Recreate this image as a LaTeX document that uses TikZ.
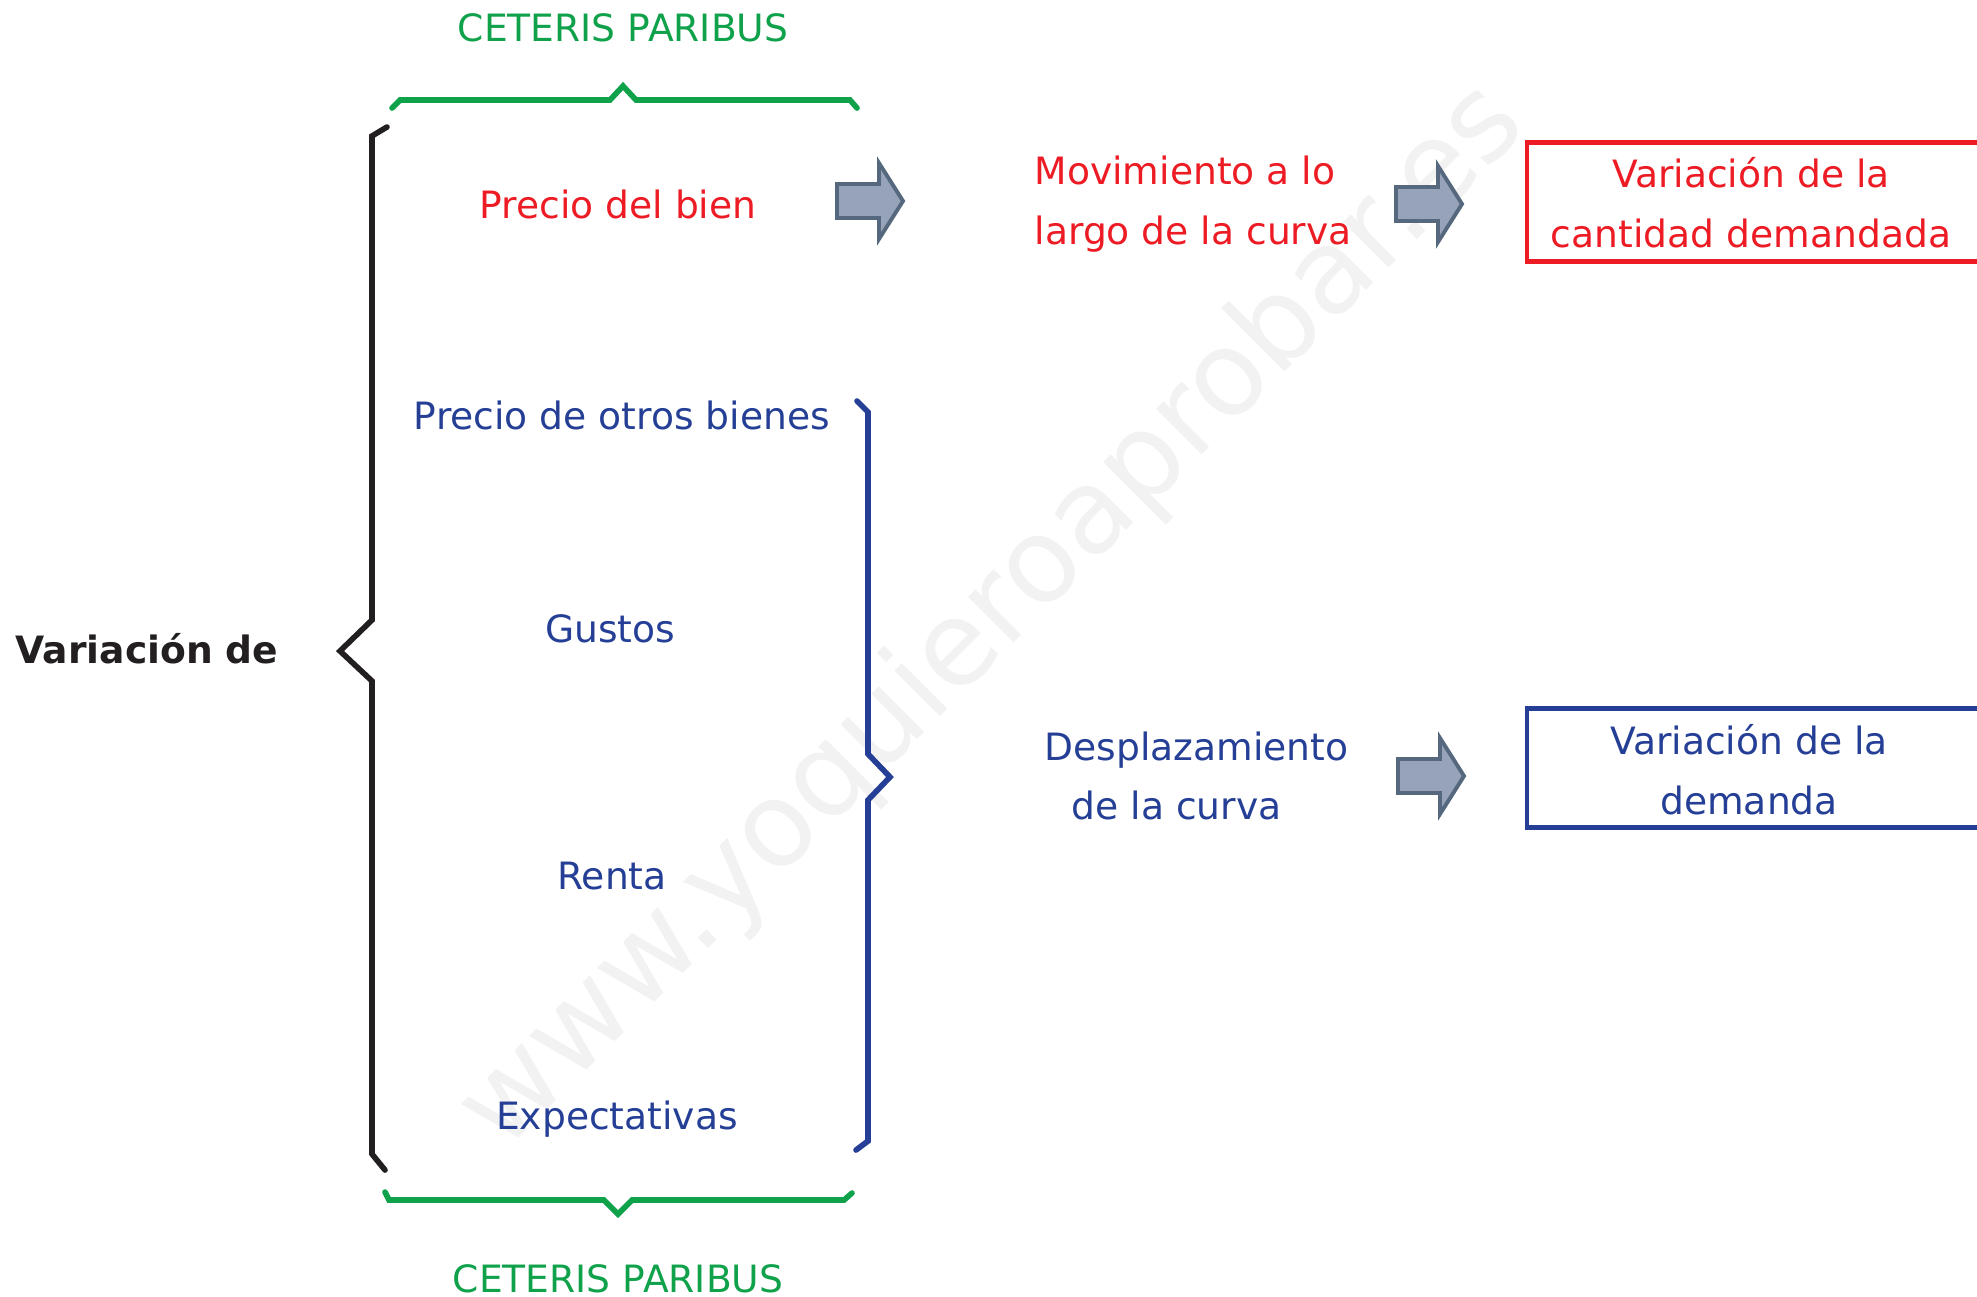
\documentclass[tikz,border=0pt]{standalone}
\usepackage{fontspec}
\setmainfont{DejaVu Sans}
\usepackage{xcolor}
\usetikzlibrary{positioning}

\definecolor{cpgreen}{HTML}{10A14B}
\definecolor{qred}{HTML}{ED1C24}
\definecolor{dblue}{HTML}{243F95}
\definecolor{bkbrace}{HTML}{231F20}
\definecolor{arrfill}{HTML}{97A3B8}
\definecolor{arrdraw}{HTML}{56687D}

\begin{document}
\begin{tikzpicture}[
    x=0.01cm, y=-0.01cm,
    every node/.style={inner sep=0pt, font=\fontsize{10.7pt}{17pt}\selectfont},
    redtxt/.style={text=qred, align=center},
    bluetxt/.style={text=dblue, align=center},
    cp/.style={text=cpgreen},
    brace/.style={line width=1.6pt, line cap=round, line join=miter},
    outbox/.style={draw, line width=1.2pt, minimum width=5.6cm, minimum height=1.19cm, anchor=west},
    blockarrow/.pic={\draw[fill=arrfill, draw=arrdraw, line width=1.1pt, line join=miter]
      (0,-17) -- (42,-17) -- (42,-38) -- (66,0) -- (42,38) -- (42,17) -- (0,17) -- cycle;}
  ]
    \useasboundingbox (0,0) rectangle (1977,1296);

    % watermark
    \node[text=black!5, font=\fontsize{33.5pt}{40pt}\selectfont, rotate=45] (wm) at (993,618) {www.yoquieroaprobar.es};

    % left side
    \node[text=bkbrace, font=\fontsize{10.7pt}{17pt}\selectfont\bfseries, anchor=west] (vd) at (15,649) {Variación de};
    \draw[brace, bkbrace] (387,127) -- (372,136) -- (372,620) -- (340,651) -- (372,681) -- (372,1154) -- (385,1170);

    % ceteris paribus
    \draw[brace, cpgreen] (392,108) -- (400,100) -- (610,100) -- (623,86) -- (636,100) -- (850,100) -- (857,108);
    \draw[brace, cpgreen] (385,1192) -- (389,1200) -- (604,1200) -- (618,1214) -- (632,1200) -- (844,1200) -- (852,1193);
    \coordinate (gtop) at (623,86);
    \coordinate (gbot) at (618,1214);
    \node[cp, above=0.43cm of gtop] (cptop) {CETERIS PARIBUS};
    \node[cp, below=0.5cm of gbot] (cpbot) {CETERIS PARIBUS};

    % factors
    \node[redtxt] (precio) at (618,204) {Precio del bien};
    \node[bluetxt] (otros) at (622,415) {Precio de otros bienes};
    \node[bluetxt] (gustos) at (610,629) {Gustos};
    \node[bluetxt] (renta) at (612,876) {Renta};
    \node[bluetxt] (expect) at (617,1119) {Expectativas};
    \draw[brace, dblue] (857,401) -- (868,412) -- (868,754) -- (890,777) -- (868,800) -- (868,1141) -- (856,1150);

    % arrows
    \pic at (837,201) {blockarrow};
    \pic at (1396,204) {blockarrow};
    \pic at (1398,776) {blockarrow};

    % results
    \node[text=qred, align=left, anchor=west] (mov) at (1034,204) {Movimiento a lo\\largo de la curva};
    \node[text=dblue, align=left, anchor=west] (desp) at (1044,776) {Desplazamiento\\\hspace*{0.27cm}de la curva};

    \node[outbox, draw=qred] (qdbox) at (1525,202) {};
    \node[redtxt] (qdtxt) at (1751,203) {Variación de la\\cantidad demandada};
    \node[outbox, draw=dblue] (dbox) at (1525,768) {};
    \node[bluetxt] (dtxt) at (1749,770) {Variación de la\\demanda};
\end{tikzpicture}
\end{document}
